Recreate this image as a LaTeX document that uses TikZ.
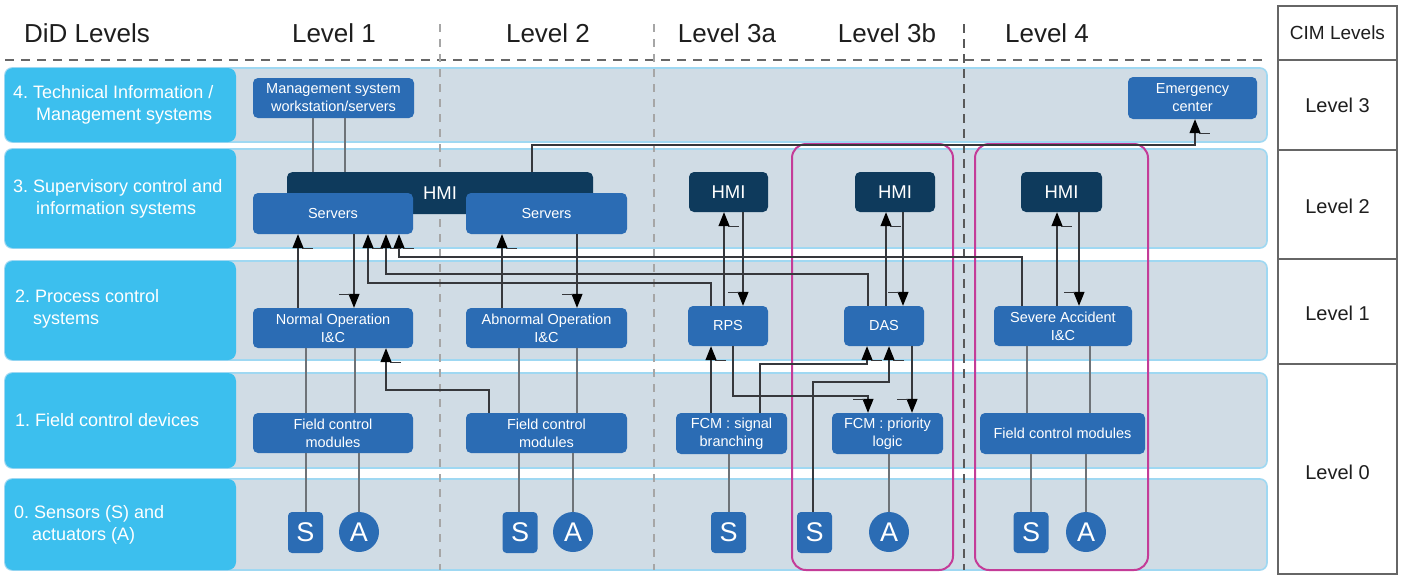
\documentclass[tikz,border=0pt]{standalone}
\usepackage{fontspec}
\setmainfont{Liberation Sans}
\usetikzlibrary{arrows.meta,decorations.markings}
\frenchspacing

\definecolor{labcyan}{HTML}{3CBFEE}
\definecolor{bandgray}{HTML}{D0DCE5}
\definecolor{bandedge}{HTML}{9FD8F2}
\definecolor{nodeblue}{HTML}{2B6CB4}
\definecolor{navy}{HTML}{0E3A5C}
\definecolor{framepink}{HTML}{C43C98}
\definecolor{wire}{HTML}{36383C}
\definecolor{wirelight}{HTML}{6E7378}
\definecolor{headtext}{HTML}{1E1E1E}

\tikzset{
  band/.style={fill=bandgray, draw=bandedge, line width=1.6pt, rounded corners=7pt,
    minimum width=1262pt, inner sep=0pt},
  labbox/.style={fill=labcyan, draw=none, rounded corners=8pt, minimum width=231pt, inner sep=0pt},
  labtext/.style={anchor=west, text=white, align=left, inner sep=0pt,
    font=\fontsize{18}{22}\selectfont},
  head/.style={text=headtext, inner sep=0pt, font=\fontsize{26}{30}\selectfont},
  cimtext/.style={text=headtext, inner sep=0pt, font=\fontsize{20}{24}\selectfont},
  blk/.style={fill=nodeblue, draw=none, rounded corners=5pt, text=white, align=center,
    inner sep=0pt, font=\fontsize{14.5}{18}\selectfont},
  hmi/.style={fill=navy, draw=none, rounded corners=5pt, text=white, align=center,
    inner sep=0pt, font=\fontsize{18.5}{22}\selectfont},
  sens/.style={fill=nodeblue, rounded corners=4pt, minimum width=35pt, minimum height=41pt,
    text=white, inner sep=0pt, font=\fontsize{27}{27}\selectfont},
  act/.style={fill=nodeblue, circle, minimum size=40pt, text=white, inner sep=0pt,
    font=\fontsize{27}{27}\selectfont},
  link/.style={draw=wirelight, line width=1.5pt},
  arr/.style={draw=wire, line width=1.1pt,
    -{Triangle[width=11pt,length=14pt,color=black,fill=black]},
    postaction={decorate},
    decoration={markings, mark=at position 1 with {\draw[-, wire, line width=0.6pt] (-14pt,-4pt) -- (-14pt,-15pt);}}},
  colsep/.style={draw=gray!70, line width=1.2pt, dash pattern=on 8pt off 7pt},
  colsepdark/.style={draw=black!65, line width=1.5pt, dash pattern=on 9pt off 6pt},
  grpframe/.style={draw=framepink, line width=2pt, rounded corners=14pt},
}

\begin{document}
\begin{tikzpicture}[x=1pt,y=-1pt]
\useasboundingbox (0,0) rectangle (1406,574);
\fill[white] (0,0) rectangle (1406,574);

% ---- horizontal bands with their level labels
\node[band, minimum height=74pt] (band4) at (636,105) {};
\node[band, minimum height=99pt] (band3) at (636,198.5) {};
\node[band, minimum height=99pt] (band2) at (636,310.5) {};
\node[band, minimum height=95pt] (band1) at (636,420.5) {};
\node[band, minimum height=91pt] (band0) at (636,524.5) {};

\node[labbox, minimum height=74pt] (lab4) at (120.5,105) {};
\node[labbox, minimum height=99pt] (lab3) at (120.5,198.5) {};
\node[labbox, minimum height=99pt] (lab2) at (120.5,310.5) {};
\node[labbox, minimum height=95pt] (lab1) at (120.5,420.5) {};
\node[labbox, minimum height=91pt] (lab0) at (120.5,524.5) {};

\node[labtext] (lt4) at (13,105) {4. Technical Information /\\\hspace*{23pt}Management systems};
\node[labtext] (lt3) at (13,199) {3. Supervisory control and\\\hspace*{23pt}information systems};
\node[labtext] (lt2) at (15,309) {2. Process control\\\hspace*{18pt}systems};
\node[labtext] (lt1) at (15,420) {1. Field control devices};
\node[labtext] (lt0) at (14,525) {0. Sensors (S) and\\\hspace*{18pt}actuators (A)};

% ---- column header and separators
\draw[draw=black!60, line width=1.5pt, dash pattern=on 9pt off 7pt] (5,60) -- (1262,60);
\draw[colsep] (440,24) -- (440,570);
\draw[colsep] (654,24) -- (654,570);
\draw[colsepdark] (964,24) -- (964,570);

\node[head] (hdid) at (87,33) {DiD Levels};
\node[head] (hl1) at (334,33) {Level 1};
\node[head] (hl2) at (548,33) {Level 2};
\node[head] (hl3a) at (727,33) {Level 3a};
\node[head] (hl3b) at (887,33) {Level 3b};
\node[head] (hl4) at (1047,33) {Level 4};

% ---- CIM level table
\draw[draw=black!60, line width=1.4pt] (1278,6) rectangle (1397,574);
\draw[draw=black!60, line width=1.4pt] (1278,60) -- (1397,60)
  (1278,150) -- (1397,150) (1278,259) -- (1397,259) (1278,364) -- (1397,364);
\node[cimtext, font=\fontsize{19}{22}\selectfont] (cimh) at (1337.5,33) {CIM Levels};
\node[cimtext] (cim3) at (1337.5,105) {Level 3};
\node[cimtext] (cim2) at (1337.5,206) {Level 2};
\node[cimtext] (cim1) at (1337.5,313) {Level 1};
\node[cimtext] (cim0) at (1337.5,472) {Level 0};

% ---- Level 3b and Level 4 groupings
\draw[grpframe] (792,144) rectangle (953,570);
\draw[grpframe] (975,144) rectangle (1148,570);

% ---- system blocks
\node[blk, minimum width=161pt, minimum height=40pt] (mgmt) at (333.5,98) {Management system\\workstation/servers};
\node[blk, minimum width=129pt, minimum height=42pt] (emerg) at (1192.5,98) {Emergency\\center};

\node[hmi, minimum width=306pt, minimum height=42pt, anchor=north] (hmibig) at (440,172) {HMI};
\node[blk, minimum width=160pt, minimum height=41pt] (srv1) at (333,213.5) {Servers};
\node[blk, minimum width=161pt, minimum height=41pt] (srv2) at (546.5,213.5) {Servers};
\node[hmi, minimum width=79pt, minimum height=40pt] (hmia) at (728.5,192) {HMI};
\node[hmi, minimum width=80pt, minimum height=40pt] (hmib) at (895,192) {HMI};
\node[hmi, minimum width=81pt, minimum height=40pt] (hmic) at (1061.5,192) {HMI};

\node[blk, minimum width=160pt, minimum height=40pt] (normal) at (333,328) {Normal Operation\\I\&C};
\node[blk, minimum width=161pt, minimum height=40pt] (abnormal) at (546.5,328) {Abnormal Operation\\I\&C};
\node[blk, minimum width=80pt, minimum height=40pt] (rps) at (728,326) {RPS};
\node[blk, minimum width=80pt, minimum height=40pt] (das) at (884,326) {DAS};
\node[blk, minimum width=138pt, minimum height=40pt] (severe) at (1063,326) {Severe Accident\\I\&C};

\node[blk, minimum width=160pt, minimum height=40pt] (fcm1) at (333,433) {Field control\\modules};
\node[blk, minimum width=161pt, minimum height=40pt] (fcm2) at (546.5,433) {Field control\\modules};
\node[blk, minimum width=111pt, minimum height=41pt] (fcmsb) at (731.5,433.5) {FCM : signal\\branching};
\node[blk, minimum width=111pt, minimum height=41pt] (fcmpl) at (887.5,433.5) {FCM : priority\\logic};
\node[blk, minimum width=165pt, minimum height=41pt] (fcm4) at (1062.5,433.5) {Field control modules};

\node[sens] (s1) at (305.5,532.5) {S};
\node[act]  (a1) at (359,532) {A};
\node[sens] (s2) at (520,532.5) {S};
\node[act]  (a2) at (573,532) {A};
\node[sens] (s3) at (728.5,532.5) {S};
\node[sens] (s4) at (814.5,532.5) {S};
\node[act]  (a4) at (889,532) {A};
\node[sens] (s5) at (1031,532.5) {S};
\node[act]  (a5) at (1086,532) {A};

% ---- plain links
\draw[link] (313,0 |- mgmt.south) -- (313,0 |- hmibig.north);
\draw[link] (345,0 |- mgmt.south) -- (345,0 |- hmibig.north);
\draw[link] (306,0 |- normal.south) -- (306,0 |- fcm1.north);
\draw[link] (355,0 |- normal.south) -- (355,0 |- fcm1.north);
\draw[link] (519,0 |- abnormal.south) -- (519,0 |- fcm2.north);
\draw[link] (577,0 |- abnormal.south) -- (577,0 |- fcm2.north);
\draw[link] (1027,0 |- severe.south) -- (1027,0 |- fcm4.north);
\draw[link] (1090,0 |- severe.south) -- (1090,0 |- fcm4.north);
\draw[link] (306,0 |- fcm1.south) -- (306,0 |- s1.north);
\draw[link] (359,0 |- fcm1.south) -- (a1.north);
\draw[link] (519,0 |- fcm2.south) -- (519,0 |- s2.north);
\draw[link] (573,0 |- fcm2.south) -- (a2.north);
\draw[link] (729,0 |- fcmsb.south) -- (729,0 |- s3.north);
\draw[link] (889,0 |- fcmpl.south) -- (a4.north);
\draw[link] (1031,0 |- fcm4.south) -- (1031,0 |- s5.north);
\draw[link] (1086,0 |- fcm4.south) -- (a5.north);

% ---- directed signal paths
\draw[arr] (532,0 |- hmibig.north) -- (532,145) -- (1195,145) -- (1195,0 |- emerg.south);

\draw[arr] (298,0 |- normal.north) -- (298,0 |- srv1.south);
\draw[arr] (354,0 |- srv1.south) -- (354,0 |- normal.north);
\draw[arr] (1022,0 |- severe.north) -- (1022,257) -- (399,257) -- (399,0 |- srv1.south);
\draw[arr] (868,0 |- das.north) -- (868,274) -- (386,274) -- (386,0 |- srv1.south);
\draw[arr] (711,0 |- rps.north) -- (711,283) -- (368,283) -- (368,0 |- srv1.south);

\draw[arr] (502,0 |- abnormal.north) -- (502,0 |- srv2.south);
\draw[arr] (577,0 |- srv2.south) -- (577,0 |- abnormal.north);

\draw[arr] (724,0 |- rps.north) -- (724,0 |- hmia.south);
\draw[arr] (743,0 |- hmia.south) -- (743,0 |- rps.north);
\draw[arr] (886,0 |- das.north) -- (886,0 |- hmib.south);
\draw[arr] (903,0 |- hmib.south) -- (903,0 |- das.north);
\draw[arr] (1057,0 |- severe.north) -- (1057,0 |- hmic.south);
\draw[arr] (1079,0 |- hmic.south) -- (1079,0 |- severe.north);

\draw[arr] (489,0 |- fcm2.north) -- (489,390) -- (386,390) -- (386,0 |- normal.south);

\draw[arr] (711,0 |- fcmsb.north) -- (711,0 |- rps.south);
\draw[arr] (733,0 |- rps.south) -- (733,396) -- (868,396) -- (868,0 |- fcmpl.north);
\draw[arr] (760,0 |- fcmsb.north) -- (760,364) -- (867,364) -- (867,0 |- das.south);
\draw[arr] (813,0 |- s4.north) -- (813,382) -- (889,382) -- (889,0 |- das.south);
\draw[arr] (912,0 |- das.south) -- (912,0 |- fcmpl.north);
\end{tikzpicture}
\end{document}
